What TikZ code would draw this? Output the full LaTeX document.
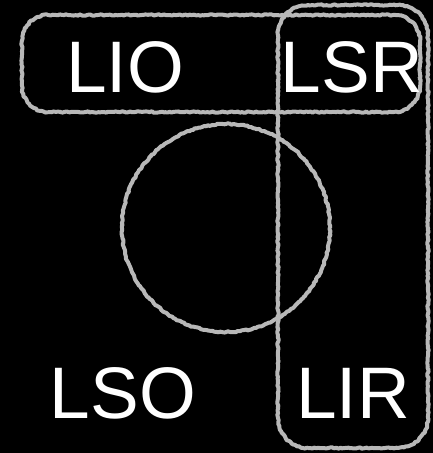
\documentclass[tikz,border=0pt]{standalone}
\usepackage{fontspec}
\setmainfont{Liberation Sans}
\usetikzlibrary{decorations.pathmorphing}
\definecolor{chalk}{HTML}{B8B8B8}
\tikzset{
  rough/.style={draw=chalk, line width=4pt, line join=round, decorate,
    decoration={random steps, segment length=2pt, amplitude=0.7pt}},
  lbl/.style={text=white, font=\fontsize{73}{78}\selectfont, inner sep=0pt, anchor=center}
}
\begin{document}
\begin{tikzpicture}[x=1pt,y=1pt]
\fill[black] (0,0) rectangle (433,453);
\useasboundingbox (0,0) rectangle (433,453);
% horizontal rounded box
\draw[rough] (48,341) -- (394,341) arc[start angle=-90,end angle=0,radius=26]
  -- (420,412) arc[start angle=0,end angle=90,radius=26]
  -- (48,438) arc[start angle=90,end angle=180,radius=26]
  -- (22,367) arc[start angle=180,end angle=270,radius=26] -- cycle;
% vertical rounded box
\draw[rough] (308,5) -- (398,5) arc[start angle=-90,end angle=0,radius=30]
  -- (428,418) arc[start angle=0,end angle=90,radius=30]
  -- (308,448) arc[start angle=90,end angle=180,radius=30]
  -- (278,35) arc[start angle=180,end angle=270,radius=30] -- cycle;
\coordinate (cc) at (226,225);
\draw[rough] (cc) circle (104);
\node[lbl] (lio) at (125,386) {LIO};
\node[lbl] (lsr) at (352,386) {LSR};
\node[lbl] (lso) at (123,60) {LSO};
\node[lbl] (lir) at (353,60) {LIR};
\end{tikzpicture}
\end{document}
